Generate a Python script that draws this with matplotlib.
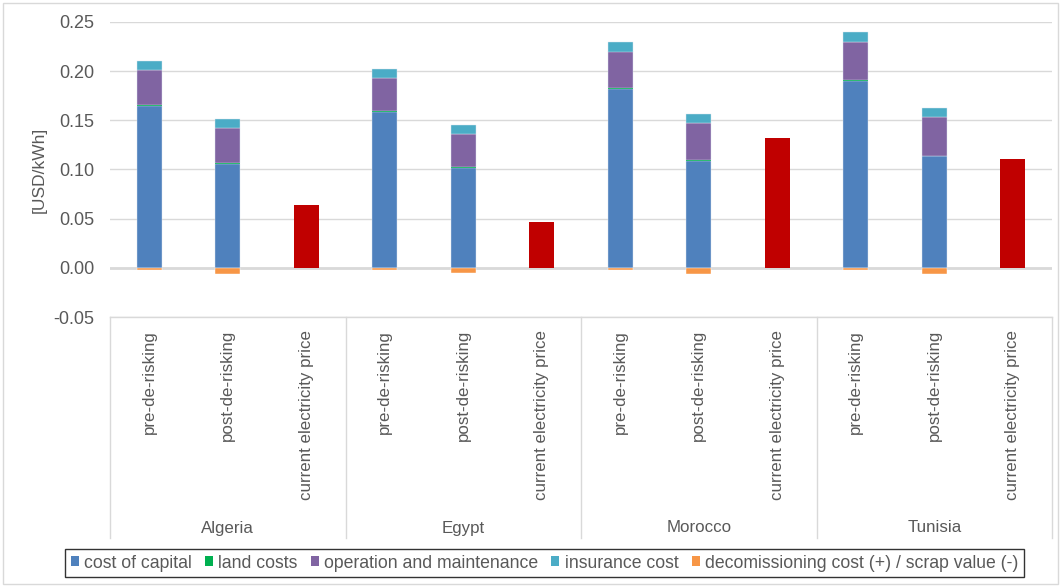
import numpy as np
import matplotlib.pyplot as plt
from matplotlib.patches import Patch, Rectangle

plt.rcParams['font.family'] = ['Liberation Sans', 'DejaVu Sans']

# LCOE breakdown per country and scenario [USD/kWh]
countries = ['Algeria', 'Egypt', 'Morocco', 'Tunisia']
scenarios = ['pre-de-risking', 'post-de-risking', 'current electricity price']

# order: Algeria pre, Algeria post, Egypt pre, Egypt post, ...
cost_of_capital = [0.165, 0.106, 0.158, 0.102, 0.182, 0.109, 0.190, 0.114]
land_costs      = [0.0008, 0.0002, 0.001, 0.0002, 0.001, 0.0002, 0.0015, 0.0002]
o_and_m         = [0.0352, 0.0358, 0.034, 0.0343, 0.037, 0.0378, 0.0385, 0.0393]
insurance       = [0.009, 0.009, 0.009, 0.009, 0.0095, 0.0095, 0.0095, 0.0095]
decom_scrap     = [-0.002, -0.006, -0.002, -0.005, -0.002, -0.006, -0.002, -0.006]
electricity_price = [0.064, 0.047, 0.132, 0.111]

series_names = ['cost of capital', 'land costs', 'operation and maintenance',
                'insurance cost', 'decomissioning cost (+) / scrap value (-)']
colors = ['#4F81BD', '#00B050', '#8064A2', '#4BACC6', '#F79646']
price_color = '#C00000'
text_col = '#595959'
grid_col = '#D9D9D9'

W, H = 1061, 587
fig = plt.figure(figsize=(W / 100, H / 100), dpi=100)

# plot area in pixels
x0, x1 = 110, 1052
ytop, ybot = 22, 317
ax = fig.add_axes([x0 / W, 1 - ybot / H, (x1 - x0) / W, (ybot - ytop) / H])

n_cat = len(countries) * len(scenarios)
xpos = np.arange(n_cat)
stack_x = np.array([i * 3 + j for i in range(len(countries)) for j in range(2)])
price_x = np.array([i * 3 + 2 for i in range(len(countries))])
bw = 0.315

bottom = np.zeros(len(stack_x))
edge_w = [0.3, 0.0, 0.3, 0.3]
for vals, c, lw in zip([cost_of_capital, land_costs, o_and_m, insurance],
                       colors[:4], edge_w):
    ax.bar(stack_x, vals, bw, bottom=bottom, color=c, edgecolor='#DDE6F0',
           linewidth=lw, zorder=3)
    bottom += np.array(vals)
ax.bar(stack_x, decom_scrap, bw, color=colors[4], edgecolor='#FFFFFF',
       linewidth=0.3, zorder=3)
ax.bar(price_x, electricity_price, bw, color=price_color, zorder=3)

ax.set_xlim(-0.5, n_cat - 0.5)
ax.set_ylim(-0.05, 0.25)
ax.set_yticks(np.arange(-0.05, 0.251, 0.05))
ax.set_yticklabels(['%.2f' % v for v in np.arange(-0.05, 0.251, 0.05)])
ax.tick_params(axis='y', length=0, labelsize=13, colors=text_col, pad=11)
ax.set_xticks([])
ax.grid(axis='y', color=grid_col, linewidth=1, zorder=0)
ax.axhline(0, color=grid_col, linewidth=2, zorder=2)
for s in ax.spines.values():
    s.set_visible(False)
ax.set_ylabel('[USD/kWh]', fontsize=12.5, color=text_col, labelpad=5)

# category axis below the plot
cbot = 538
cax = fig.add_axes([x0 / W, 1 - cbot / H, (x1 - x0) / W, (cbot - ybot) / H])
cax.set_xlim(-0.5, n_cat - 0.5)
cax.set_ylim(0, 1)
cax.axis('off')
cax.plot([-0.5, n_cat - 0.5], [1, 1], color=grid_col, lw=1, clip_on=False)
for k in range(len(countries) + 1):
    xb = k * 3 - 0.5
    cax.plot([xb, xb], [0, 1], color=grid_col, lw=1, clip_on=False)
for i in range(n_cat):
    cax.text(xpos[i], 1 - 13 / (cbot - ybot), scenarios[i % 3], rotation=90,
             ha='center', va='top', fontsize=12.2, color=text_col)
for k, name in enumerate(countries):
    cax.text(k * 3 + 1, 10 / (cbot - ybot), name, ha='center', va='center',
             fontsize=12.2, color=text_col)

handles = [Patch(facecolor=c, edgecolor='none') for c in colors]
leg = fig.legend(handles, series_names, loc='center',
                 bbox_to_anchor=(544.5 / W, 1 - 563 / H), ncol=5, fontsize=12.7,
                 handlelength=0.45, handleheight=0.45, handletextpad=0.3,
                 columnspacing=0.75, frameon=True, fancybox=False,
                 borderpad=0.3, borderaxespad=0)
leg.get_frame().set_edgecolor('#000000')
leg.get_frame().set_linewidth(1.0)
for t in leg.get_texts():
    t.set_color(text_col)

# outer chart border
fig.patches.append(Rectangle((3 / W, 3 / H), 1 - 6 / W, 1 - 6 / H,
                             transform=fig.transFigure, fill=False,
                             edgecolor=grid_col, linewidth=1))

fig.savefig('out.png', dpi=100)
